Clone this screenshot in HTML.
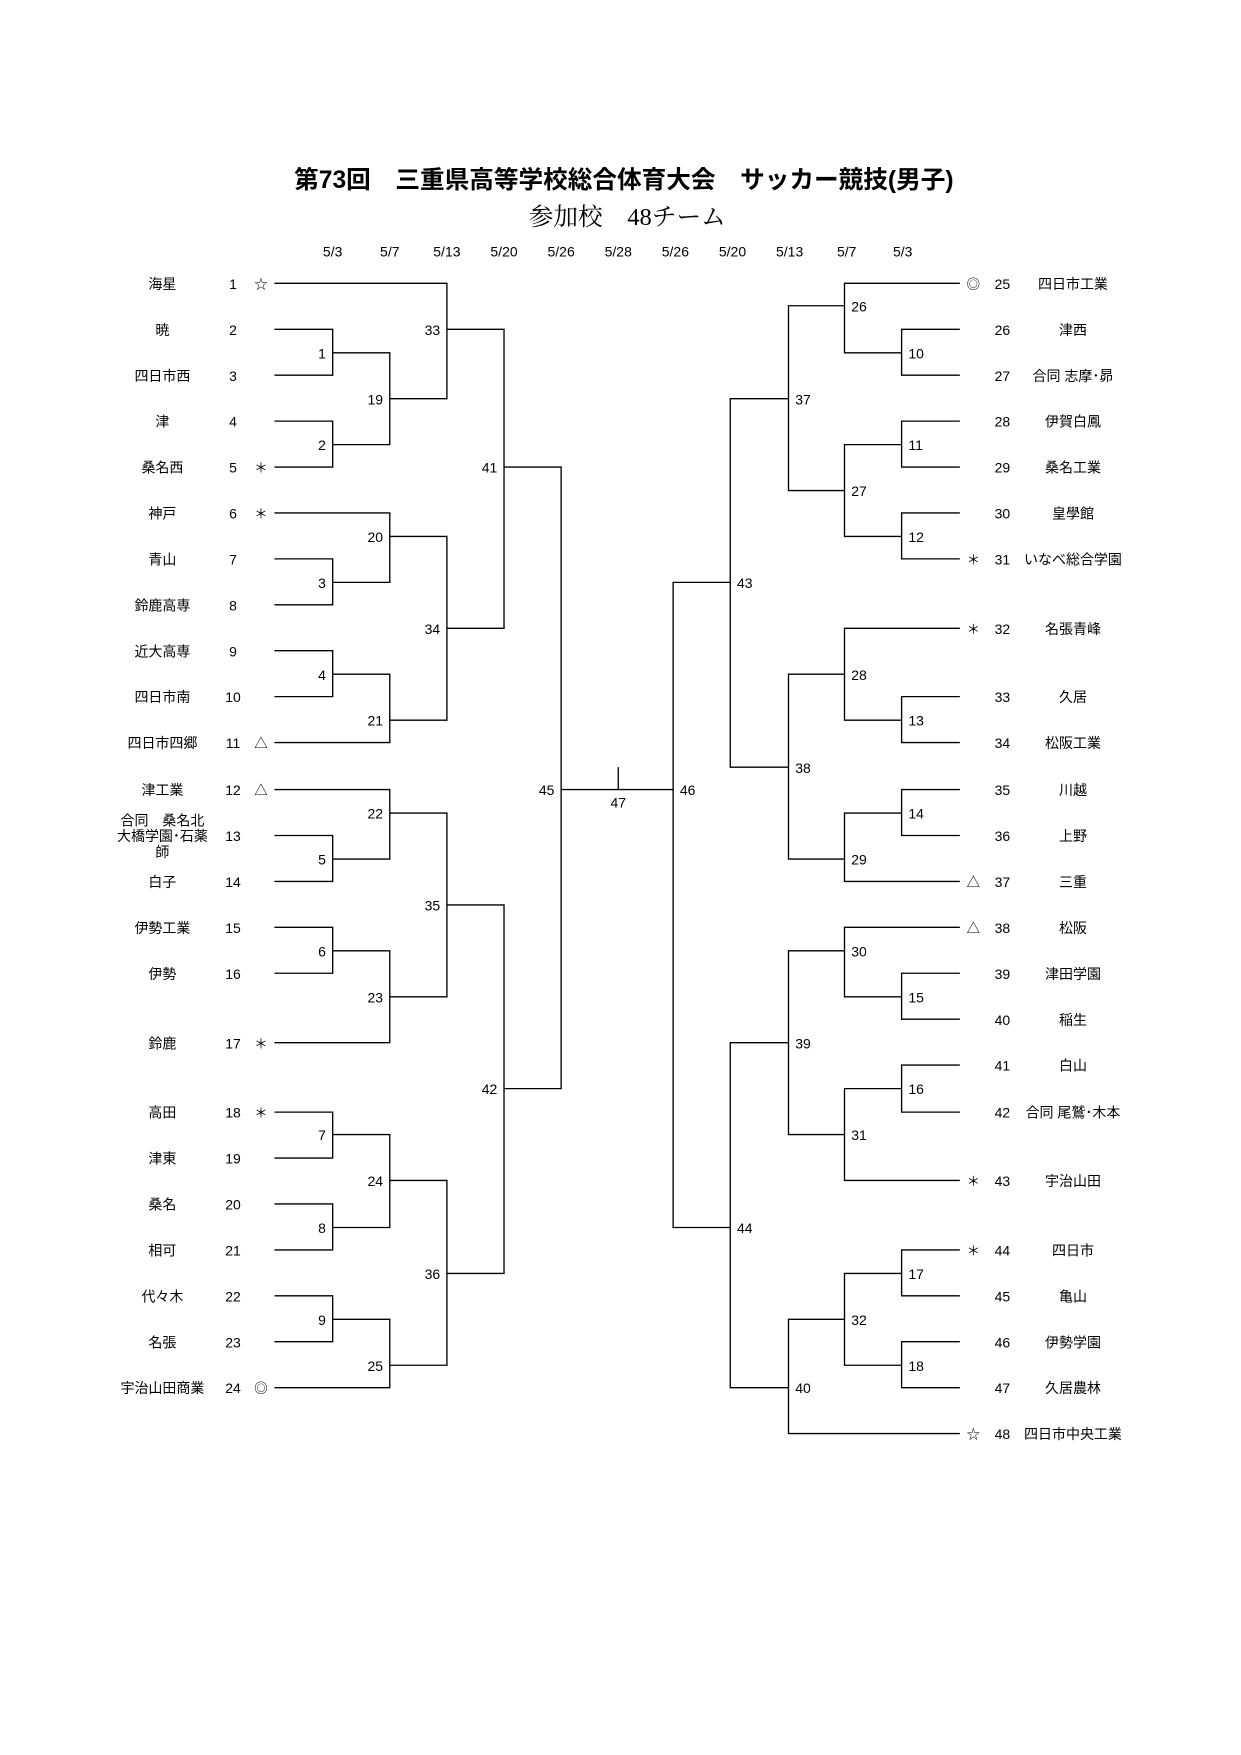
<!DOCTYPE html>
<html><head><meta charset="utf-8"><style>
html,body{margin:0;padding:0;background:#fff;}
svg{display:block;}
text{font-family:"Liberation Sans","Noto Sans CJK JP",sans-serif;font-size:12.5px;fill:#000;}
.t{font-size:22px;font-weight:bold;}
.s{font-family:"Liberation Serif","Noto Serif CJK SC",serif;font-size:22px;}
.m{font-size:12px;}
</style></head><body>
<svg width="1241" height="1755" viewBox="0 0 1108 1567" xmlns="http://www.w3.org/2000/svg">
<text class="t" x="557" y="168" text-anchor="middle">第73回　三重県高等学校総合体育大会　サッカー競技(男子)</text>
<text class="s" x="560" y="201" text-anchor="middle">参加校　48チーム</text>
<g text-anchor="middle">
<text x="297" y="229">5/3</text><text x="348" y="229">5/7</text><text x="399" y="229">5/13</text><text x="450" y="229">5/20</text><text x="501" y="229">5/26</text><text x="552" y="229">5/28</text><text x="603" y="229">5/26</text><text x="654" y="229">5/20</text><text x="705" y="229">5/13</text><text x="756" y="229">5/7</text><text x="806" y="229">5/3</text>
</g>
<g fill="none" stroke="#000" stroke-width="1.2">
<path d="M245 253H399V356H348"/>
<path d="M245 294H297V335H245M297 315H348V397H297"/>
<path d="M245 376H297V417H245"/>
<path d="M399 294H450V561H399"/>
<path d="M245 458H348V520H297"/>
<path d="M245 499H297V540H245"/>
<path d="M348 479H399V643H348"/>
<path d="M245 581H297V622H245M297 602H348V663H245"/>
<path d="M450 417H501V972H450"/>
<path d="M245 705H348V767H297"/>
<path d="M245 746H297V787H245"/>
<path d="M348 726H399V890H348"/>
<path d="M245 828H297V869H245M297 849H348V931H245"/>
<path d="M399 808H450V1137H399"/>
<path d="M245 993H297V1034H245M297 1013H348V1096H297"/>
<path d="M245 1075H297V1116H245"/>
<path d="M348 1054H399V1219H348"/>
<path d="M245 1157H297V1198H245M297 1178H348V1239H245"/>
<path d="M501 705H601M552 685V705"/>
<path d="M857 253H754V315H805"/>
<path d="M857 294H805V335H857"/>
<path d="M754 273H704V438H754"/>
<path d="M857 376H805V417H857M805 397H754V479H805"/>
<path d="M857 458H805V499H857"/>
<path d="M704 356H652V685H704"/>
<path d="M857 561H754V643H805"/>
<path d="M857 622H805V663H857"/>
<path d="M754 602H704V767H754"/>
<path d="M857 705H805V746H857M805 726H754V787H857"/>
<path d="M652 520H601V1096H652"/>
<path d="M857 828H754V890H805"/>
<path d="M857 869H805V910H857"/>
<path d="M754 849H704V1013H754"/>
<path d="M857 951H805V993H857M805 972H754V1054H857"/>
<path d="M704 931H652V1239H704"/>
<path d="M857 1116H805V1157H857M805 1137H754V1219H805"/>
<path d="M857 1198H805V1239H857"/>
<path d="M754 1178H704V1280H857"/>
</g>
<g text-anchor="end">
<text x="291" y="320">1</text><text x="291" y="402">2</text><text x="291" y="525">3</text><text x="291" y="607">4</text><text x="291" y="772">5</text><text x="291" y="854">6</text><text x="291" y="1018">7</text><text x="291" y="1101">8</text><text x="291" y="1183">9</text>
<text x="342" y="361">19</text><text x="342" y="484">20</text><text x="342" y="648">21</text><text x="342" y="731">22</text><text x="342" y="895">23</text><text x="342" y="1059">24</text><text x="342" y="1224">25</text>
<text x="393" y="299">33</text><text x="393" y="566">34</text><text x="393" y="813">35</text><text x="393" y="1142">36</text>
<text x="444" y="422">41</text><text x="444" y="977">42</text>
<text x="495" y="710">45</text>
</g>
<text x="552" y="721" text-anchor="middle">47</text>
<g>
<text x="811" y="320">10</text><text x="811" y="402">11</text><text x="811" y="484">12</text><text x="811" y="648">13</text><text x="811" y="731">14</text><text x="811" y="895">15</text><text x="811" y="977">16</text><text x="811" y="1142">17</text><text x="811" y="1224">18</text>
<text x="760" y="278">26</text><text x="760" y="443">27</text><text x="760" y="607">28</text><text x="760" y="772">29</text><text x="760" y="854">30</text><text x="760" y="1018">31</text><text x="760" y="1183">32</text>
<text x="710" y="361">37</text><text x="710" y="690">38</text><text x="710" y="936">39</text><text x="710" y="1244">40</text>
<text x="658" y="525">43</text><text x="658" y="1101">44</text>
<text x="607" y="710">46</text>
</g>
<g text-anchor="middle">
<text x="145" y="258">海星</text><text x="145" y="299">暁</text><text x="145" y="340">四日市西</text><text x="145" y="381">津</text><text x="145" y="422">桑名西</text><text x="145" y="463">神戸</text><text x="145" y="504">青山</text><text x="145" y="545">鈴鹿高専</text><text x="145" y="586">近大高専</text><text x="145" y="627">四日市南</text><text x="145" y="668">四日市四郷</text><text x="145" y="710">津工業</text>
<text x="145" y="737">合同　桑名北</text><text x="145" y="751">大橋学園･石薬</text><text x="145" y="765">師</text>
<text x="145" y="792">白子</text><text x="145" y="833">伊勢工業</text><text x="145" y="874">伊勢</text><text x="145" y="936">鈴鹿</text><text x="145" y="998">高田</text><text x="145" y="1039">津東</text><text x="145" y="1080">桑名</text><text x="145" y="1121">相可</text><text x="145" y="1162">代々木</text><text x="145" y="1203">名張</text><text x="145" y="1244">宇治山田商業</text>
<text x="208" y="258">1</text><text x="208" y="299">2</text><text x="208" y="340">3</text><text x="208" y="381">4</text><text x="208" y="422">5</text><text x="208" y="463">6</text><text x="208" y="504">7</text><text x="208" y="545">8</text><text x="208" y="586">9</text><text x="208" y="627">10</text><text x="208" y="668">11</text><text x="208" y="710">12</text><text x="208" y="751">13</text><text x="208" y="792">14</text><text x="208" y="833">15</text><text x="208" y="874">16</text><text x="208" y="936">17</text><text x="208" y="998">18</text><text x="208" y="1039">19</text><text x="208" y="1080">20</text><text x="208" y="1121">21</text><text x="208" y="1162">22</text><text x="208" y="1203">23</text><text x="208" y="1244">24</text>
<text class="m" x="233" y="258">☆</text><text class="m" x="233" y="422">＊</text><text class="m" x="233" y="463">＊</text><text class="m" x="233" y="668">△</text><text class="m" x="233" y="710">△</text><text class="m" x="233" y="936">＊</text><text class="m" x="233" y="998">＊</text><text class="m" x="233" y="1244">◎</text>
</g>
<g text-anchor="middle">
<text class="m" x="869" y="258">◎</text><text class="m" x="869" y="504">＊</text><text class="m" x="869" y="566">＊</text><text class="m" x="869" y="792">△</text><text class="m" x="869" y="833">△</text><text class="m" x="869" y="1059">＊</text><text class="m" x="869" y="1121">＊</text><text class="m" x="869" y="1285">☆</text>
<text x="895" y="258">25</text><text x="895" y="299">26</text><text x="895" y="340">27</text><text x="895" y="381">28</text><text x="895" y="422">29</text><text x="895" y="463">30</text><text x="895" y="504">31</text><text x="895" y="566">32</text><text x="895" y="627">33</text><text x="895" y="668">34</text><text x="895" y="710">35</text><text x="895" y="751">36</text><text x="895" y="792">37</text><text x="895" y="833">38</text><text x="895" y="874">39</text><text x="895" y="915">40</text><text x="895" y="956">41</text><text x="895" y="998">42</text><text x="895" y="1059">43</text><text x="895" y="1121">44</text><text x="895" y="1162">45</text><text x="895" y="1203">46</text><text x="895" y="1244">47</text><text x="895" y="1285">48</text>
<text x="958" y="258">四日市工業</text><text x="958" y="299">津西</text><text x="958" y="340">合同 志摩･昴</text><text x="958" y="381">伊賀白鳳</text><text x="958" y="422">桑名工業</text><text x="958" y="463">皇學館</text><text x="958" y="504">いなべ総合学園</text><text x="958" y="566">名張青峰</text><text x="958" y="627">久居</text><text x="958" y="668">松阪工業</text><text x="958" y="710">川越</text><text x="958" y="751">上野</text><text x="958" y="792">三重</text><text x="958" y="833">松阪</text><text x="958" y="874">津田学園</text><text x="958" y="915">稲生</text><text x="958" y="956">白山</text><text x="958" y="998">合同 尾鷲･木本</text><text x="958" y="1059">宇治山田</text><text x="958" y="1121">四日市</text><text x="958" y="1162">亀山</text><text x="958" y="1203">伊勢学園</text><text x="958" y="1244">久居農林</text><text x="958" y="1285">四日市中央工業</text>
</g>
</svg>
</body></html>
